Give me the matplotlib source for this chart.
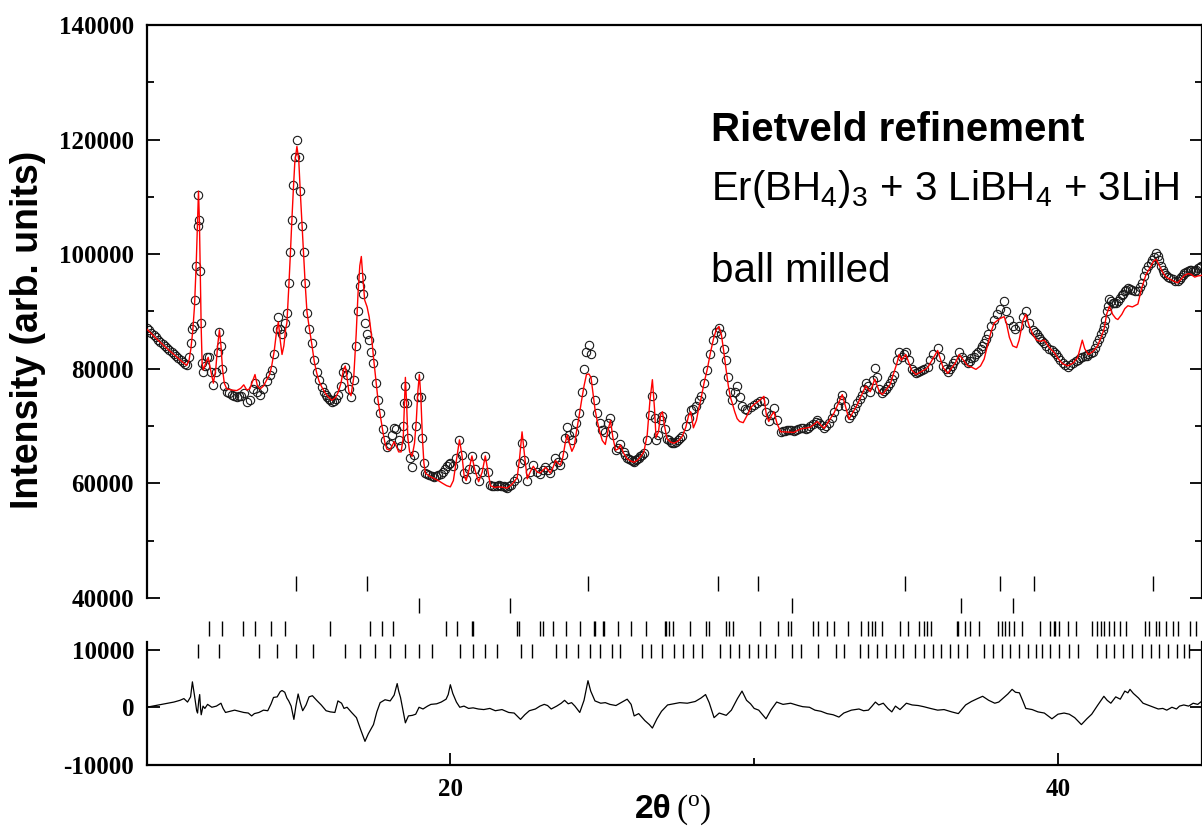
import numpy as np
import matplotlib.pyplot as plt
from matplotlib.ticker import MultipleLocator, FixedLocator

# observed pattern (open circles)
obs_theta = [
    10.00, 10.08, 10.15, 10.23, 10.30, 10.38, 10.45, 10.53, 10.60, 10.68,
    10.75, 10.83, 10.90, 10.98, 11.05, 11.13, 11.20, 11.26, 11.32,
    11.40, 11.46, 11.50, 11.55, 11.60, 11.64, 11.68, 11.71, 11.74, 11.77,
    11.80, 11.83, 11.87, 11.93, 12.00, 12.05, 12.12, 12.20, 12.28, 12.34,
    12.40, 12.45, 12.50, 12.56, 12.64, 12.72, 12.80, 12.88, 12.97, 13.03, 13.10, 13.20, 13.30,
    13.40, 13.50, 13.57, 13.65, 13.74, 13.85, 13.95, 14.05, 14.12, 14.20,
    14.28, 14.34, 14.40, 14.47, 14.55, 14.62, 14.68, 14.73, 14.78, 14.83,
    14.88, 14.95, 15.01, 15.06, 15.12, 15.17, 15.22, 15.28, 15.36, 15.44,
    15.52, 15.60, 15.68, 15.77, 15.84, 15.90, 15.95, 16.00, 16.05, 16.10, 16.16, 16.22, 16.30, 16.40,
    16.48, 16.54, 16.60, 16.66, 16.73, 16.82, 16.90, 16.96, 17.02, 17.07,
    17.12, 17.18, 17.26, 17.33, 17.40, 17.47, 17.55, 17.62, 17.69, 17.78,
    17.85, 17.91, 18.00, 18.08, 18.15, 18.22, 18.30, 18.38, 18.45, 18.49,
    18.52, 18.56, 18.60, 18.66, 18.74, 18.82, 18.88, 18.93, 18.98, 19.03,
    19.08, 19.13, 19.18, 19.24, 19.30, 19.38, 19.45, 19.52, 19.60, 19.68, 19.75, 19.82, 19.88, 19.94, 20.00, 20.10,
    20.20, 20.30, 20.38, 20.45, 20.52, 20.62, 20.71, 20.80, 20.93, 21.05,
    21.15, 21.24, 21.32, 21.38, 21.45, 21.52, 21.60, 21.68, 21.75, 21.81, 21.87, 21.94, 22.00, 22.10, 22.20,
    22.28, 22.36, 22.44, 22.53, 22.63, 22.73, 22.85, 22.95, 23.05, 23.13,
    23.22, 23.29, 23.38, 23.46, 23.55, 23.62, 23.70, 23.78, 23.85, 23.92,
    24.00, 24.08, 24.15, 24.23, 24.32, 24.40, 24.48, 24.56, 24.63, 24.70,
    24.76, 24.83, 24.92, 25.00, 25.10, 25.20, 25.27, 25.35, 25.44, 25.52,
    25.60, 25.70, 25.76, 25.82, 25.88, 25.94, 26.00, 26.04, 26.10, 26.15, 26.20, 26.25, 26.31, 26.37, 26.48, 26.57,
    26.65, 26.72, 26.77, 26.85, 26.92, 26.98, 27.05, 27.13, 27.19, 27.25, 27.30, 27.36,
    27.43, 27.50, 27.56, 27.63, 27.75, 27.84, 27.91, 28.00, 28.10, 28.17, 28.24, 28.35,
    28.46, 28.56, 28.66, 28.75, 28.84, 28.92, 29.00, 29.06, 29.15, 29.22,
    29.28, 29.36, 29.44, 29.52, 29.60, 29.70, 29.78, 29.90, 30.00, 30.10,
    30.20, 30.32, 30.40, 30.48, 30.56, 30.65, 30.75, 30.87, 30.94, 31.00, 31.08, 31.15,
    31.22, 31.30, 31.38, 31.45, 31.53, 31.62, 31.70, 31.78, 31.85, 31.95, 32.02, 32.08, 32.14, 32.20, 32.30, 32.38, 32.45, 32.55,
    32.63, 32.75, 32.85, 32.90, 33.00, 33.12, 33.18, 33.25, 33.32, 33.40, 33.48, 33.55, 33.61, 33.67,
    33.75, 33.82, 33.90, 33.97, 34.05, 34.12, 34.22, 34.28, 34.35, 34.41, 34.47, 34.54, 34.60,
    34.70, 34.77, 34.85, 34.92, 34.99, 35.08, 35.18, 35.25, 35.32, 35.38, 35.45, 35.52, 35.60,
    35.71, 35.80, 35.90, 36.04, 36.12, 36.22, 36.30, 36.37, 36.44, 36.50, 36.56, 36.62, 36.75,
    36.85, 36.94, 37.03, 37.09, 37.15, 37.22, 37.30, 37.38, 37.45, 37.51, 37.57, 37.64, 37.70, 37.80, 37.90, 38.00,
    38.10, 38.23, 38.30, 38.40, 38.51, 38.60, 38.72, 38.85, 38.94, 39.05,
    39.17, 39.24, 39.30, 39.36, 39.42, 39.48, 39.55, 39.62, 39.70, 39.79, 39.88, 39.94, 40.00, 40.08, 40.15, 40.24, 40.32, 40.41, 40.50,
    40.58, 40.65, 40.72, 40.80, 40.88, 40.94, 41.00, 41.08, 41.15, 41.22, 41.30, 41.36, 41.42, 41.47, 41.52, 41.56, 41.60, 41.65, 41.69,
    41.75, 41.80, 41.85, 41.90, 41.97, 42.04, 42.10, 42.15, 42.20, 42.25, 42.30, 42.38, 42.45, 42.54, 42.63, 42.69, 42.75, 42.83, 42.90,
    42.97, 43.05, 43.10, 43.15, 43.23, 43.28, 43.32, 43.38, 43.45, 43.50, 43.56, 43.63, 43.70, 43.78, 43.85, 43.94, 44.00, 44.05,
    44.10, 44.16, 44.22, 44.28, 44.33, 44.38, 44.44, 44.50, 44.55, 44.60, 44.66, 44.72,
]
obs_int = [
    87200, 86700, 86300, 85900, 85500, 85100, 84700, 84300, 84000, 83600,
    83300, 82900, 82600, 82200, 81900, 81500, 81200, 80900, 80700,
    82000, 84500, 87000, 87500, 92000, 98000, 105000, 110400, 106000, 97000,
    88000, 81000, 79500, 80500, 82000, 82100, 79500, 77200, 79500, 83000,
    86500, 84000, 80000, 77000, 76000, 75700, 75500, 75300, 75100, 75200, 75300, 75800, 74200,
    74500, 76500, 77500, 76000, 75500, 76500, 77800, 79000, 79800, 82500,
    87000, 89100, 87000, 86000, 88000, 89800, 95000, 100300, 106000, 112000,
    117000, 120000, 117000, 111000, 105000, 100300, 95000, 89800, 87000, 84500,
    81500, 79500, 78000, 76900, 76000, 75500, 75100, 74800, 74500, 74200, 74400, 74800, 75500, 77000,
    79500, 80400, 79000, 76500, 75100, 78000, 84000, 90000, 94500, 96100,
    93000, 88000, 86000, 85000, 83000, 81000, 77500, 74500, 72300, 69500,
    67500, 66400, 66800, 68500, 69700, 69500, 67500, 66500, 70000, 74000,
    77000, 74000, 68000, 64500, 62900, 65000, 70000, 75000, 78700, 75000,
    68000, 63500, 61800, 61600, 61500, 61300, 61200, 61300, 61500, 61700, 62000, 62500, 63000, 63300, 63600, 63000,
    64500, 67600, 65000, 61800, 60700, 62500, 64700, 62500, 60500, 62000,
    64800, 62000, 59800, 59600, 59500, 59600, 59700, 59600, 59500, 59300, 59200, 59500, 59800, 60500, 61000,
    63500, 67000, 64000, 60500, 62000, 63200, 62000, 61700, 62300, 62900,
    62400, 61800, 63000, 64400, 63700, 63200, 65000, 68000, 69900, 68500,
    67600, 69000, 70500, 72300, 76000, 80000, 83000, 84200, 82500, 78000,
    74500, 72300, 70500, 69400, 69000, 70500, 71400, 68500, 65900, 66200,
    66900, 65500, 65000, 64500, 64200, 64000, 63900, 63800, 64000, 64200, 64500, 64800, 65000, 65300, 67500, 72000,
    75200, 71500, 67600, 68500, 71000, 71700, 69500, 67700, 67500, 67300, 67100, 67000,
    67200, 67500, 67900, 68300, 70000, 71500, 72800, 73000, 73500, 74500, 75200, 77500,
    79800, 82500, 85000, 86500, 87200, 86000, 83500, 81600, 78500, 76000,
    74600, 76000, 77000, 75000, 73500, 73000, 72800, 73300, 73700, 74000,
    74300, 74300, 72500, 70900, 72000, 73200, 71000, 69000, 69100, 69200, 69300, 69400,
    69300, 69100, 69300, 69500, 69700, 69600, 69500, 69700, 70000, 70300, 70700, 71100, 70600, 70200, 69700, 70100, 70500, 71500,
    72500, 73500, 74500, 75500, 73500, 71400, 71900, 72500, 73200, 74000, 74700, 75500, 76500, 77600,
    77000, 76000, 78000, 80200, 78500, 76500, 75800, 76100, 76500, 77000, 77600, 78300, 79000,
    81500, 83000, 82000, 82500, 83000, 81500, 80000, 79600, 79300, 79400, 79600, 79800, 80000,
    80400, 81500, 82500, 83700, 82000, 80500, 80000, 79500, 80000, 80500, 81000, 81500, 83000,
    82000, 81500, 81000, 81400, 81800, 82100, 82500, 83000, 83500, 84000, 84500, 85200, 86000, 87500, 88600, 89500,
    90500, 91800, 90000, 88500, 87400, 87000, 87500, 89000, 90000, 88000,
    86800, 86400, 86000, 85600, 85200, 84800, 84500, 84000, 83500, 83200, 83000, 82500, 82000, 81500, 81000, 80700, 80400, 80700, 81000,
    81300, 81600, 81800, 82000, 82200, 82300, 82500, 82700, 83000, 83700, 84500, 85200, 86000, 86700, 87400, 88600, 90000, 91000, 92100,
    91800, 91500, 91500, 91500, 91800, 92300, 92800, 93100, 93500, 93800, 94100, 94000, 93800, 93600, 93500, 94200, 95000, 96200, 97300,
    97900, 98500, 99000, 99500, 100200, 99600, 99000, 98000, 97200, 96800, 96400, 96100, 95800, 95600, 95400, 95300, 95600, 96000,
    96400, 96800, 96900, 97000, 97200, 97300, 97100, 97000, 97300, 97600, 97700, 97900,
]

# calculated pattern (red line)
calc_theta = [
    10.00, 10.30, 10.60, 10.90, 11.20, 11.32, 11.40, 11.46, 11.52, 11.58,
    11.64, 11.68, 11.71, 11.74, 11.77, 11.80, 11.83, 11.87, 11.95, 12.03,
    12.12, 12.20, 12.28, 12.34, 12.40, 12.45, 12.50, 12.56, 12.64, 12.80,
    12.97, 13.10, 13.20, 13.30, 13.40, 13.50, 13.57, 13.65, 13.74, 13.85,
    13.95, 14.05, 14.12, 14.20, 14.28, 14.34, 14.40, 14.46, 14.52, 14.58,
    14.62, 14.68, 14.73, 14.78, 14.83, 14.88, 14.95, 15.01, 15.06, 15.12,
    15.17, 15.22, 15.28, 15.36, 15.44, 15.52, 15.60, 15.68, 15.77, 15.90,
    16.00, 16.10, 16.22, 16.30, 16.40, 16.48, 16.54, 16.60, 16.66, 16.73,
    16.82, 16.90, 16.96, 17.02, 17.07, 17.12, 17.18, 17.26, 17.33, 17.40,
    17.47, 17.55, 17.62, 17.69, 17.78, 17.85, 17.91, 18.00, 18.08, 18.15,
    18.22, 18.30, 18.38, 18.45, 18.49, 18.52, 18.56, 18.60, 18.66, 18.74,
    18.82, 18.88, 18.93, 18.98, 19.03, 19.08, 19.13, 19.18, 19.30, 19.45,
    19.60, 19.75, 19.88, 20.00, 20.10, 20.20, 20.30, 20.38, 20.45, 20.52,
    20.62, 20.71, 20.80, 20.93, 21.05, 21.15, 21.24, 21.32, 21.45, 21.60,
    21.75, 21.87, 22.00, 22.10, 22.20, 22.28, 22.36, 22.44, 22.53, 22.63,
    22.73, 22.85, 22.95, 23.05, 23.13, 23.22, 23.29, 23.38, 23.46, 23.55,
    23.62, 23.70, 23.78, 23.85, 23.92, 24.00, 24.08, 24.15, 24.23, 24.32,
    24.40, 24.48, 24.56, 24.63, 24.70, 24.76, 24.83, 24.92, 25.00, 25.10,
    25.20, 25.27, 25.35, 25.44, 25.52, 25.60, 25.70, 25.82, 25.94, 26.04,
    26.15, 26.25, 26.37, 26.48, 26.57, 26.65, 26.72, 26.77, 26.85, 26.92,
    26.98, 27.05, 27.13, 27.25, 27.36, 27.50, 27.63, 27.75, 27.84, 27.91,
    28.00, 28.10, 28.17, 28.24, 28.35, 28.46, 28.56, 28.66, 28.75, 28.84,
    28.92, 29.00, 29.06, 29.15, 29.22, 29.28, 29.36, 29.44, 29.52, 29.64,
    29.78, 29.90, 30.00, 30.10, 30.20, 30.32, 30.40, 30.48, 30.56, 30.65,
    30.75, 30.87, 31.00, 31.30, 31.53, 31.85, 32.08, 32.30, 32.63, 32.90,
    33.12, 33.40, 33.67, 33.82, 33.97, 34.12, 34.22, 34.47, 34.70, 34.77,
    34.85, 34.99, 35.18, 35.32, 35.60, 35.71, 36.04, 36.22, 36.37, 36.62,
    36.75, 37.03, 37.15, 37.30, 37.45, 37.57, 37.70, 37.80, 37.90, 38.10,
    38.23, 38.30, 38.40, 38.51, 38.64, 38.72, 38.85, 38.94, 39.05, 39.17,
    39.30, 39.42, 39.55, 39.70, 39.88, 40.00, 40.15, 40.32, 40.50, 40.65,
    40.80, 40.88, 41.00, 41.15, 41.30, 41.42, 41.52, 41.60, 41.69, 41.80,
    41.90, 41.97, 42.10, 42.20, 42.30, 42.45, 42.63, 42.75, 42.90, 43.05,
    43.15, 43.23, 43.32, 43.45, 43.56, 43.70, 43.85, 43.94, 44.05, 44.16,
    44.28, 44.38, 44.50, 44.60, 44.72,
]
calc_int = [
    87000, 85400, 83900, 82500, 81100, 80600, 81500, 83500, 86500, 91000,
    99000, 106000, 111000, 106000, 96000, 87000, 81000, 79800, 81000, 82000,
    79500, 77500, 80000, 84000, 86800, 84000, 80000, 77500, 76500, 76300,
    76200, 76600, 77200, 76300, 76500, 78000, 79000, 77000, 76500, 77000,
    78000, 79000, 80500, 83000, 86500, 88200, 85000, 82500, 84000, 87000,
    88000, 94000, 99500, 105500, 111000, 116000, 118800, 116500, 111000, 105000,
    100000, 95000, 90000, 87000, 84300, 81300, 79300, 77800, 76800, 75600,
    75000, 74500, 75000, 75800, 77500, 79800, 80500, 78500, 76000, 75300,
    78500, 86000, 93000, 98000, 99600, 96000, 92000, 90800, 89000, 86000,
    82000, 78000, 74500, 72000, 69000, 67000, 66000, 65800, 66500, 67300,
    66500, 65500, 65500, 68000, 74000, 78500, 74000, 68000, 65500, 64700,
    67000, 71000, 76000, 79000, 75000, 68000, 63500, 61800, 61300, 60900,
    60500, 60000, 59600, 59400, 60500, 64000, 67600, 65000, 61500, 60500,
    62500, 64800, 62500, 60300, 62000, 64800, 62000, 59600, 59300, 59400,
    59300, 59200, 59700, 60300, 61000, 64500, 69000, 65000, 60800, 62000,
    63000, 62000, 61800, 62300, 62800, 62300, 61800, 62800, 64000, 63500,
    63200, 64500, 67000, 68500, 67000, 65600, 66500, 69000, 71500, 74500,
    77000, 79000, 79100, 78500, 75500, 73000, 71000, 69000, 67500, 66800,
    69500, 71000, 68000, 65800, 66000, 66700, 65300, 64300, 63900, 63700,
    64000, 64600, 65500, 68500, 74500, 78100, 73000, 68000, 69000, 72000,
    72500, 70000, 67800, 67200, 67000, 67400, 68200, 69800, 71800, 72500,
    69700, 71000, 73000, 74500, 77500, 80000, 82800, 85200, 86800, 87400,
    86000, 83000, 80500, 77000, 75000, 74000, 72500, 71300, 70800, 70600,
    72000, 73300, 73800, 74200, 74600, 75200, 72000, 70800, 71800, 72500,
    70500, 69000, 69000, 68900, 69500, 69800, 70800, 69600, 72300, 75500,
    71200, 73800, 77000, 76000, 78200, 76000, 75500, 77200, 81000, 82500,
    81500, 82500, 79800, 79000, 79800, 80200, 83200, 80200, 79200, 81000,
    82500, 80500, 80300, 79900, 80500, 81700, 84500, 86500, 88000, 88800,
    89100, 88000, 85500, 84000, 83700, 85000, 88500, 89500, 87500, 86000,
    85000, 84800, 85000, 83800, 82800, 81800, 80900, 80500, 81000, 82000,
    85000, 83500, 82500, 83000, 84000, 85500, 87000, 89500, 90900, 89500,
    88800, 88600, 89500, 90500, 91000, 90800, 91300, 94000, 96500, 97800,
    98800, 99100, 98200, 96800, 96000, 95600, 95200, 95000, 95600, 96300,
    96600, 96500, 96000, 96200, 96300,
]

# difference curve (lower panel)
diff_theta = [
    10.00, 10.30, 10.60, 10.90, 11.10, 11.23, 11.35, 11.45, 11.51, 11.58,
    11.65, 11.68, 11.72, 11.75, 11.78, 11.80, 11.86, 11.92, 12.01, 12.15,
    12.30, 12.45, 12.52, 12.60, 12.75, 12.90, 13.05, 13.20, 13.35, 13.46,
    13.55, 13.70, 13.85, 13.99, 14.10, 14.18, 14.30, 14.40, 14.46, 14.55,
    14.62, 14.68, 14.76, 14.85, 14.92, 14.99, 15.06, 15.14, 15.25, 15.35,
    15.46, 15.60, 15.75, 15.91, 16.05, 16.20, 16.30, 16.42, 16.50, 16.60,
    16.75, 16.91, 17.05, 17.19, 17.30, 17.47, 17.58, 17.69, 17.85, 18.02,
    18.15, 18.25, 18.30, 18.36, 18.45, 18.52, 18.62, 18.75, 18.86, 18.97,
    19.10, 19.25, 19.36, 19.55, 19.70, 19.86, 19.93, 20.00, 20.08, 20.20,
    20.31, 20.45, 20.60, 20.75, 20.92, 21.10, 21.30, 21.48, 21.70, 21.92,
    22.10, 22.31, 22.45, 22.60, 22.80, 22.95, 23.09, 23.20, 23.32, 23.50,
    23.65, 23.76, 23.88, 23.99, 24.10, 24.26, 24.40, 24.53, 24.62, 24.76,
    24.95, 25.10, 25.25, 25.45, 25.65, 25.82, 25.95, 26.05, 26.20, 26.40,
    26.55, 26.65, 26.80, 26.95, 27.15, 27.35, 27.55, 27.80, 28.06, 28.25,
    28.40, 28.52, 28.68, 28.85, 29.08, 29.25, 29.45, 29.60, 29.75, 29.88,
    30.00, 30.15, 30.28, 30.39, 30.55, 30.74, 30.95, 31.20, 31.45, 31.60,
    31.82, 32.00, 32.20, 32.40, 32.60, 32.79, 32.95, 33.20, 33.45, 33.60,
    33.76, 33.88, 33.99, 34.10, 34.25, 34.40, 34.53, 34.65, 34.80, 35.01,
    35.20, 35.40, 35.58, 35.80, 36.04, 36.25, 36.50, 36.72, 36.96, 37.15,
    37.35, 37.52, 37.72, 37.92, 38.05, 38.20, 38.35, 38.49, 38.60, 38.73,
    38.85, 38.94, 39.15, 39.34, 39.55, 39.80, 40.00, 40.20, 40.37, 40.55,
    40.77, 40.95, 41.11, 41.30, 41.51, 41.62, 41.74, 41.90, 42.05, 42.20,
    42.30, 42.37, 42.48, 42.65, 42.80, 42.95, 43.11, 43.30, 43.45, 43.58,
    43.75, 43.90, 44.00, 44.14, 44.30, 44.45, 44.60, 44.72,
]
diff_int = [
    0, 300, 600, 900, 1200, 1500, 900, 1800, 4400, 2000,
    -600, -1000, 1200, 2200, -300, -1300, 200, -200, 500, 0,
    200, 700, -200, -900, -700, -500, -700, -900, -1000, -1500,
    -1100, -900, -500, -600, 600, 1700, 1800, 2700, 2900, 2600,
    1600, 1100, 200, -2100, 300, 2300, 800, -600, 400, 1800,
    2000, 1200, 400, -600, -800, -900, 1100, 700, -200, 0,
    -900, -1800, -3900, -5900, -4600, -3000, -800, 800, 1300, 1100,
    2100, 4100, 2800, 1700, -800, -2700, -1500, -1400, -1200, 0,
    -300, 200, 500, 600, 900, 1400, 2200, 3900, 2400, 900,
    0, 200, -200, -100, -300, -400, -200, -600, -400, -900,
    -1000, -2100, -1300, -600, -300, 200, 500, 300, -300, 200,
    700, 1200, 600, 800, 200, -900, 1200, 4600, 2800, 1100,
    700, 800, 500, 300, 900, 1400, 500, -1500, -1100, -2300,
    -3000, -3600, -2000, -700, 400, 600, 800, 700, 1000, 1600,
    2200, 800, -1800, -1000, -1400, -500, 1500, 2800, 1200, 600,
    -200, -500, -1300, -2000, -500, 900, 500, 700, 300, 100,
    0, -500, -700, -1100, -1300, -1700, -1000, -500, -300, -600,
    -500, 200, 900, 400, 700, -200, -800, 200, -400, 700,
    400, 300, 100, -200, -500, -400, -800, -1100, 400, 1000,
    1500, 1900, 1200, 700, 900, 1600, 2300, 3100, 2600, 2500,
    1000, -200, -400, -800, -1000, -2000, -1200, -1000, -1200, -1800,
    -3000, -2000, -1200, 300, 1900, 1200, 700, 1800, 1400, 2800,
    2500, 3100, 2400, 1600, 700, 400, 100, -300, -200, -500,
    0, -300, 200, 400, 200, 700, 500, 1000,
]

# Bragg reflection positions, one list per row of tick marks
refl_row1 = [14.93, 17.27, 24.52, 28.82, 30.14, 34.96, 38.08, 39.21, 43.13]
refl_row2 = [18.98, 21.96, 31.25, 36.81, 38.51]
refl_row3 = [
    12.05, 12.49, 13.16, 13.57, 14.10, 14.55, 16.05, 17.35, 17.74, 18.11,
    19.86, 20.23, 20.70, 20.75, 22.20, 22.25, 22.96, 23.05, 23.39, 23.81,
    24.27, 24.72, 24.76, 25.01, 25.06, 25.53, 25.93, 26.45, 27.06, 27.09,
    27.21, 27.32, 27.89, 28.40, 28.51, 29.06, 29.18, 29.29, 30.20, 30.77,
    31.11, 31.20, 31.93, 32.11, 32.39, 32.62, 33.08, 33.53, 33.76, 33.87,
    33.99, 34.21, 34.79, 35.07, 35.41, 35.58, 35.70, 35.81, 36.67, 36.72,
    36.95, 37.12, 37.41, 38.04, 38.15, 38.26, 38.38, 38.55, 38.83, 39.40,
    39.75, 39.86, 39.91, 40.03, 40.32, 40.60, 41.11, 41.28, 41.40, 41.51,
    41.68, 41.85, 42.03, 42.25, 42.88, 42.99, 43.22, 43.34, 43.56, 43.79,
    43.96, 44.36, 44.53,
]
refl_row4 = [
    11.68, 12.40, 13.70, 14.29, 14.91, 15.47, 16.52, 17.02, 17.52, 18.02,
    18.50, 18.97, 19.41, 20.31, 20.75, 21.14, 21.53, 22.31, 22.70, 23.48,
    23.81, 24.20, 24.59, 24.92, 25.31, 25.59, 26.31, 26.59, 26.98, 27.37,
    27.66, 28.00, 28.29, 28.86, 29.20, 29.49, 29.83, 30.11, 30.40, 30.68,
    31.25, 31.54, 32.11, 32.68, 32.96, 33.48, 33.76, 34.05, 34.33, 34.62,
    34.90, 35.30, 35.58, 35.87, 36.15, 36.44, 36.72, 37.01, 37.58, 37.86,
    38.15, 38.43, 38.72, 39.00, 39.29, 39.46, 39.75, 40.03, 40.37, 40.66,
    41.28, 41.57, 41.85, 42.14, 42.43, 42.77, 43.05, 43.34, 43.62, 43.91,
    44.14, 44.31,
]

plt.rcParams['font.family'] = ['Liberation Serif']
plt.rcParams['font.weight'] = 'bold'
plt.rcParams['axes.unicode_minus'] = False
plt.rcParams['mathtext.default'] = 'regular'

fig = plt.figure(figsize=(12.02, 8.30), dpi=100)
ax = fig.add_axes([0.1219, 0.2795, 0.8781, 0.6904])
axd = fig.add_axes([0.1219, 0.0783, 0.8781, 0.1482])
axd.patch.set_visible(False)

ax.plot(obs_theta, obs_int, 'o', mfc='none', mec='#1a1a1a', ms=6, mew=0.8, zorder=2)
ax.plot(calc_theta, calc_int, '-', color='red', lw=1.0, zorder=3)

# reflection markers sit below the intensity scale, between the two panels
rows = [(refl_row1, 41200, 43800), (refl_row2, 37400, 40000),
        (refl_row3, 33400, 36000), (refl_row4, 29500, 32000)]
for pos, lo, hi in rows:
    ax.vlines(pos, lo, hi, colors='black', lw=1.0, clip_on=False)

axd.plot(diff_theta, diff_int, '-', color='black', lw=0.9)

xmin, xmax = 10, 44.74
for a in (ax, axd):
    a.set_xlim(xmin, xmax)
    for s in a.spines.values():
        s.set_linewidth(1.6)
    a.tick_params(which='both', direction='in', width=1.3, labelsize=18, pad=9)
    a.tick_params(which='major', length=9)
    a.tick_params(which='minor', length=5)

ax.set_ylim(40000, 140000)
ax.yaxis.set_major_locator(MultipleLocator(20000))
ax.yaxis.set_minor_locator(MultipleLocator(10000))
ax.spines['bottom'].set_visible(False)
ax.tick_params(which='both', bottom=False, labelbottom=False, top=False,
               left=True, right=True)

axd.set_ylim(-10000, 11300)
axd.yaxis.set_major_locator(FixedLocator([-10000, 0, 10000]))
axd.xaxis.set_major_locator(MultipleLocator(20))
axd.xaxis.set_minor_locator(MultipleLocator(10))
axd.spines['top'].set_visible(False)
axd.tick_params(which='both', top=False, left=True, right=True)

sans = ['Liberation Sans', 'DejaVu Sans']
ax.text(0.5344, 0.7976, 'Rietveld refinement', transform=ax.transAxes,
        fontsize=29, fontweight='bold', family=sans, va='baseline')
ax.text(0.5344, 0.6946, 'Er(BH$_4$)$_3$ + 3 LiBH$_4$ + 3LiH', transform=ax.transAxes,
        fontsize=29, fontweight='normal', family=sans, va='baseline')
ax.text(0.5344, 0.5515, 'ball milled', transform=ax.transAxes,
        fontsize=29, fontweight='normal', family=sans, va='baseline')

fig.text(28 / 1202, 1 - 330 / 830, 'Intensity (arb. units)', rotation=90,
         ha='center', va='center', fontsize=27, fontweight='bold', family=sans)
fig.text(672 / 1202, 1 - 818 / 830, '2θ', ha='right', va='baseline',
         fontsize=24, fontweight='bold', family=sans)
fig.text(676 / 1202, 1 - 818 / 830, '($^{o}$)', ha='left', va='baseline',
         fontsize=24, fontweight='normal', family=['Liberation Serif'])

fig.savefig('out.png', dpi=100)
